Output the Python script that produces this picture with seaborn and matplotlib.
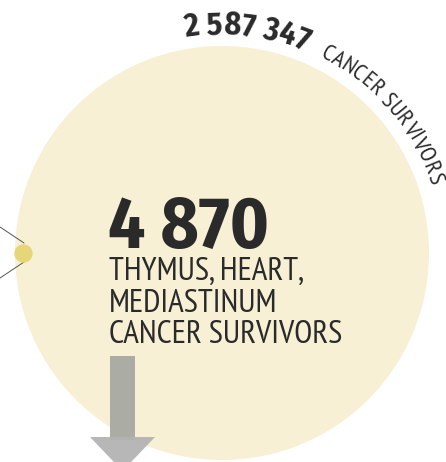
import numpy as np
import matplotlib
matplotlib.use("Agg")
import matplotlib.pyplot as plt
import seaborn as sns
from matplotlib import font_manager
from matplotlib.font_manager import FontProperties
from matplotlib.patches import Circle, Polygon, Rectangle

# values shown in the graphic
total_survivors = 2587347
total_label = "CANCER SURVIVORS"
site_survivors = 4870
site_label = ["THYMUS, HEART,", "MEDIASTINUM", "CANCER SURVIVORS"]


def fmt(n):
    return f"{n:,}".replace(",", " ")


sns.set_theme(style="white")
fonts = font_manager.fontManager.ttflist
names = {f.name for f in fonts}
NARROW = "PT Sans Narrow" if "PT Sans Narrow" in names else "Roboto"
BOLD = NARROW
for cand in ["Fira Sans Condensed", "Open Sans Condensed", "Fira Sans"]:
    if any(f.name == cand and isinstance(f.weight, int) and f.weight == 700 for f in fonts):
        BOLD = cand
        break
CAP_N = 0.70
CAP_B = 0.69
plt.rcParams["font.family"] = [NARROW, "DejaVu Sans"]

INK = "#2a2a2a"
W, H = 446, 462
fig = plt.figure(figsize=(W / 100, H / 100), dpi=100)
ax = fig.add_axes([0, 0, 1, 1])
renderer = fig.canvas.get_renderer()


def width_px(s, family, weight, size):
    prop = FontProperties(family=family, weight=weight, size=size)
    w, _, _ = renderer.get_text_width_height_descent(s, prop, ismath=False)
    return w


def fit_size(s, family, weight, target_w, cap_px, cap_ratio):
    # font size in pt, mostly from the measured width, partly from cap height
    fs_cap = cap_px / cap_ratio * 0.72
    fs_w = 50 * target_w / width_px(s, family, weight, 50)
    return fs_cap ** 0.3 * fs_w ** 0.7


# big circle (all survivors) and the small one (this site)
cx, cy, R = 222, 253, 207
ax.add_patch(Circle((cx, cy), R, color="#f7f0d4", lw=0, zorder=1))
ax.plot([0, 24], [227, 243], color="#555555", lw=0.7, zorder=2)
ax.plot([0, 24], [278, 262], color="#555555", lw=0.7, zorder=2)
sns.scatterplot(x=[23], y=[253], s=175, color="#e6d67a", linewidth=0,
                ax=ax, zorder=3, legend=False)
ax.set_xlim(0, W)
ax.set_ylim(H, 0)
ax.axis("off")

# arrow pointing down
ax.add_patch(Rectangle((110, 356), 25, 84, color="#abaca4", lw=0, zorder=2))
ax.add_patch(Polygon([(90, 437), (155, 437), (122.5, 471)], closed=True,
                     color="#b2b2b2", alpha=0.93, lw=0, zorder=3))

# centre text
fs_big = fit_size(fmt(site_survivors), BOLD, "bold", 164, 48, CAP_B)
ax.text(108, 248, fmt(site_survivors), family=BOLD, weight="bold",
        fontsize=fs_big, color=INK, ha="left", va="baseline", zorder=4)
fs_lab = fit_size(site_label[2], NARROW, "normal", 238, 22, CAP_N)
for i, line in enumerate(site_label):
    ax.text(109, 280 + 31.5 * i, line, family=NARROW, fontsize=fs_lab,
            color=INK, ha="left", va="baseline", zorder=4)


# text along the arc
def arc_text(s, family, weight, size, R_base, th0, th1):
    guard = "H"
    gw = width_px(guard, family, weight, size)
    lefts, advs = [], []
    for i, c in enumerate(s):
        lefts.append(width_px(s[:i] + guard, family, weight, size) - gw)
        advs.append(width_px(c + guard, family, weight, size) - gw)
    total = lefts[-1] + advs[-1]
    span = np.radians(th1 - th0)
    for c, l, a in zip(s, lefts, advs):
        if c == " ":
            continue
        th = np.radians(th0) + span * (l + a / 2) / total
        x = cx + R_base * np.sin(th)
        y = cy - R_base * np.cos(th)
        ax.text(x, y, c, family=family, weight=weight, fontsize=size,
                color=INK, ha="center", va="baseline", rotation=-np.degrees(th),
                rotation_mode="anchor", zorder=4)


arc_text(fmt(total_survivors), BOLD, "bold", 22 / CAP_B * 0.72, 219, -9.8, 22.5)
arc_text(total_label, NARROW, "normal", 16.5 / CAP_N * 0.72, 219, 26.5, 72.0)

fig.savefig("out.png", dpi=100)
